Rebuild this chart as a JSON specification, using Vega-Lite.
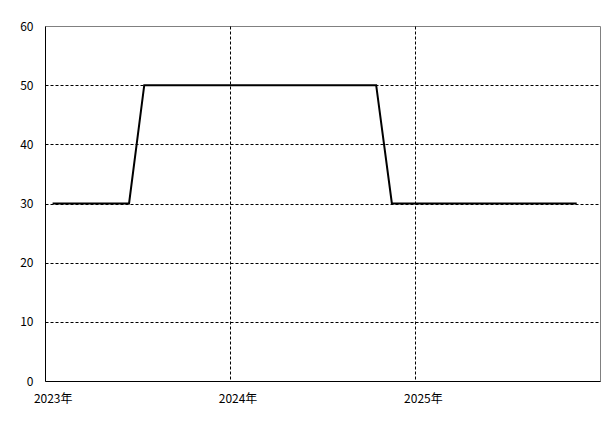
{
  "$schema": "https://vega.github.io/schema/vega-lite/v6.json",
  "width": 555,
  "height": 355,
  "autosize": {"type": "none"},
  "padding": {"left": 45, "top": 26, "right": 15, "bottom": 43},
  "background": "white",
  "config": {
    "font": "Noto Sans CJK JP",
    "view": {"stroke": "#808080", "strokeWidth": 1},
    "axis": {"labelFont": "Noto Sans CJK JP", "labelFontSize": 12, "labelColor": "black", "ticks": false, "domainColor": "black", "domainWidth": 1, "gridColor": "black", "gridDash": [3, 2], "gridWidth": 1, "title": null}
  },
  "data": {
    "values": [
      {"month": "2023-01-16", "value": 30},
      {"month": "2023-02-15", "value": 30},
      {"month": "2023-03-16", "value": 30},
      {"month": "2023-04-16", "value": 30},
      {"month": "2023-05-16", "value": 30},
      {"month": "2023-06-16", "value": 30},
      {"month": "2023-07-16", "value": 50},
      {"month": "2023-08-16", "value": 50},
      {"month": "2023-09-16", "value": 50},
      {"month": "2023-10-16", "value": 50},
      {"month": "2023-11-16", "value": 50},
      {"month": "2023-12-16", "value": 50},
      {"month": "2024-01-16", "value": 50},
      {"month": "2024-02-15", "value": 50},
      {"month": "2024-03-16", "value": 50},
      {"month": "2024-04-16", "value": 50},
      {"month": "2024-05-16", "value": 50},
      {"month": "2024-06-16", "value": 50},
      {"month": "2024-07-16", "value": 50},
      {"month": "2024-08-16", "value": 50},
      {"month": "2024-09-16", "value": 50},
      {"month": "2024-10-16", "value": 50},
      {"month": "2024-11-16", "value": 30},
      {"month": "2024-12-16", "value": 30},
      {"month": "2025-01-16", "value": 30},
      {"month": "2025-02-15", "value": 30},
      {"month": "2025-03-16", "value": 30},
      {"month": "2025-04-16", "value": 30},
      {"month": "2025-05-16", "value": 30},
      {"month": "2025-06-16", "value": 30},
      {"month": "2025-07-16", "value": 30},
      {"month": "2025-08-16", "value": 30},
      {"month": "2025-09-16", "value": 30},
      {"month": "2025-10-16", "value": 30},
      {"month": "2025-11-16", "value": 30}
    ]
  },
  "mark": {"type": "line", "color": "black", "strokeWidth": 2, "interpolate": "linear"},
  "encoding": {
    "x": {
      "field": "month",
      "type": "temporal",
      "scale": {
        "type": "utc",
        "domain": [{"year": 2023, "month": 1, "date": 1, "utc": true}, {"year": 2026, "month": 1, "date": 1, "utc": true}]
      },
      "axis": {
        "values": [{"year": 2023, "month": 1, "date": 1, "utc": true}, {"year": 2024, "month": 1, "date": 1, "utc": true}, {"year": 2025, "month": 1, "date": 1, "utc": true}],
        "format": "%Y年",
        "labelOffset": 7.7,
        "labelPadding": 12,
        "labelAlign": "center",
        "grid": true,
        "gridOpacity": {"condition": {"test": "year(datum.value) == 2023", "value": 0}, "value": 1}
      }
    },
    "y": {
      "field": "value",
      "type": "quantitative",
      "scale": {"domain": [0, 60], "nice": false},
      "axis": {
        "values": [0, 10, 20, 30, 40, 50, 60],
        "labelPadding": 12,
        "grid": true,
        "gridOpacity": {"condition": {"test": "datum.value == 0 || datum.value == 60", "value": 0}, "value": 1}
      }
    }
  }
}
